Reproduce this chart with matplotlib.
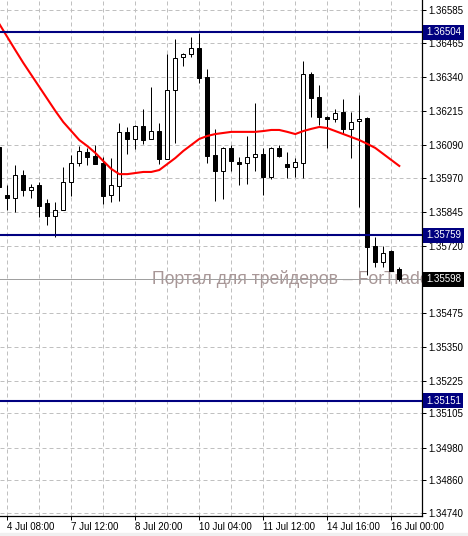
import numpy as np
import matplotlib.pyplot as plt
from matplotlib.patches import Rectangle
from matplotlib.transforms import blended_transform_factory

plt.rcParams['font.family'] = ['Liberation Sans', 'DejaVu Sans']

# H4 candles, first one is cut by the left edge
opens = [1.36083, 1.35906, 1.35895, 1.35980, 1.35925, 1.35943, 1.35877, 1.35829, 1.35851, 1.35954,
         1.36024, 1.36064, 1.36050, 1.36024, 1.35906, 1.35939, 1.36138, 1.36112, 1.36160, 1.36112,
         1.36141, 1.36038, 1.36292, 1.36413, 1.36424, 1.36446, 1.36339, 1.36053, 1.35994, 1.36079,
         1.36027, 1.36024, 1.36046, 1.36057, 1.35972, 1.36079, 1.36020, 1.36009, 1.36024, 1.36350,
         1.36266, 1.36193, 1.36185, 1.36211, 1.36149, 1.36178, 1.36189, 1.35719, 1.35661, 1.35701,
         1.35635]
highs = [1.36090, 1.35943, 1.36016, 1.35998, 1.35947, 1.35954, 1.35892, 1.35881, 1.36009, 1.36053,
         1.36086, 1.36079, 1.36090, 1.36046, 1.36042, 1.36171, 1.36156, 1.36163, 1.36222, 1.36303,
         1.36171, 1.36424, 1.36479, 1.36427, 1.36486, 1.36501, 1.36369, 1.36149, 1.36083, 1.36090,
         1.36046, 1.36123, 1.36244, 1.36079, 1.36083, 1.36090, 1.36064, 1.36042, 1.36398, 1.36358,
         1.36310, 1.36196, 1.36222, 1.36259, 1.36211, 1.36273, 1.36193, 1.35752, 1.35719, 1.35705,
         1.35642]
lows = [1.35928, 1.35851, 1.35844, 1.35903, 1.35895, 1.35826, 1.35796, 1.35752, 1.35851, 1.35903,
        1.36013, 1.36016, 1.36020, 1.35873, 1.35881, 1.35884, 1.36057, 1.36075, 1.36094, 1.36112,
        1.36020, 1.36038, 1.36097, 1.36380, 1.36413, 1.36317, 1.36024, 1.35884, 1.35892, 1.35994,
        1.35943, 1.35947, 1.35994, 1.35906, 1.35965, 1.36046, 1.35969, 1.35972, 1.35969, 1.36193,
        1.36163, 1.36079, 1.36174, 1.36130, 1.36042, 1.35862, 1.35613, 1.35642, 1.35642, 1.35628,
        1.35591]
closes = [1.35936, 1.35895, 1.35980, 1.35925, 1.35936, 1.35866, 1.35829, 1.35851, 1.35954, 1.36024,
          1.36068, 1.36046, 1.36020, 1.35903, 1.35943, 1.36138, 1.36112, 1.36160, 1.36108, 1.36141,
          1.36038, 1.36292, 1.36409, 1.36424, 1.36446, 1.36336, 1.36050, 1.35994, 1.36079, 1.36031,
          1.36020, 1.36046, 1.36057, 1.35972, 1.36079, 1.36050, 1.36009, 1.36027, 1.36350, 1.36262,
          1.36193, 1.36185, 1.36207, 1.36149, 1.36174, 1.36185, 1.35716, 1.35661, 1.35694, 1.35628,
          1.35598]

# moving average (red line)
ma = [1.36534, 1.36486, 1.36438, 1.36391, 1.36347, 1.36303, 1.36259, 1.36215, 1.36174, 1.36141,
      1.36108, 1.36086, 1.36061, 1.36031, 1.36002, 1.35983, 1.35983, 1.35987, 1.35991, 1.35991,
      1.35998, 1.36020, 1.36042, 1.36068, 1.36090, 1.36112, 1.36123, 1.36130, 1.36134, 1.36138,
      1.36138, 1.36138, 1.36138, 1.36141, 1.36145, 1.36145, 1.36138, 1.36130, 1.36141, 1.36149,
      1.36156, 1.36152, 1.36141, 1.36130, 1.36119, 1.36108, 1.36094, 1.36079, 1.36057, 1.36035,
      1.36013]

levels = [1.36504, 1.35759, 1.35151]
bid = 1.35598

price_ticks = [1.36585, 1.36465, 1.36340, 1.36215, 1.36090, 1.35970, 1.35845, 1.35720,
               1.35475, 1.35350, 1.35225, 1.35105, 1.34980, 1.34860, 1.34740]
date_pos = [0, 8, 16, 24, 32, 40, 48]
date_labels = ['4 Jul 08:00', '7 Jul 12:00', '8 Jul 20:00', '10 Jul 04:00',
               '11 Jul 12:00', '14 Jul 16:00', '16 Jul 00:00']

x = np.arange(-1, len(opens) - 1)
o = np.array(opens)
c = np.array(closes)

fig = plt.figure(figsize=(4.68, 5.36), dpi=100)
ax = fig.add_axes([0, 20 / 536, 422 / 468, 516 / 536])
ax.set_xlim(-0.9125, 51.84)
ax.set_ylim(1.34729, 1.366217)

# grid and axes, MT4 look
ax.set_yticks(price_ticks)
ax.set_yticklabels([f'{v:.5f}' for v in price_ticks])
ax.yaxis.tick_right()
ax.set_xticks(date_pos)
ax.set_xticklabels(date_labels, ha='left')
ax.set_xticks([p + 4 for p in date_pos[:-1]], minor=True)
ax.tick_params(axis='both', which='major', labelsize=7, length=3, width=0.72, pad=1.5)
ax.tick_params(axis='x', which='minor', length=0)
ax.grid(True, which='both', color='#c0c0c0', linestyle=(0, (4, 3)), linewidth=0.72, zorder=0)
ax.set_axisbelow(True)
for s in ['left', 'top']:
    ax.spines[s].set_visible(False)
for s in ['right', 'bottom']:
    ax.spines[s].set_linewidth(0.9)

# watermark and bid line
ax.text(152 / 422, (516 - 284) / 516, 'Портал для трейдеров – ForTrader.ru',
        transform=ax.transAxes, fontsize=12.7, color='#a89797', va='baseline', ha='left',
        clip_on=True, zorder=1)
ax.axhline(bid, color='#a0a0a0', linewidth=0.72, zorder=1.5)

# candles
up = c >= o
ax.vlines(x, lows, highs, color='black', linewidth=0.72, zorder=2)
ax.bar(x, c - o, bottom=o, width=0.5, color=np.where(up, 'white', 'black'),
       edgecolor='black', linewidth=0.72, zorder=3)

ax.plot(x, ma, color='red', linewidth=1.5, zorder=4)

# horizontal levels with their price boxes
tr = blended_transform_factory(ax.transAxes, ax.transData)
for lv in levels:
    ax.axhline(lv, color='#000080', linewidth=1.5, zorder=5)
    ax.text(1.0095, lv, f'{lv:.5f}', transform=tr, fontsize=7, color='white',
            va='center', ha='left', zorder=6,
            bbox=dict(facecolor='#000080', edgecolor='none', pad=1.8))
ax.text(1.0095, bid, f'{bid:.5f}', transform=tr, fontsize=7, color='white',
        va='center', ha='left', zorder=6,
        bbox=dict(facecolor='black', edgecolor='none', pad=1.8))

fig.patches.append(Rectangle((0, 0), 1, 3 / 536, transform=fig.transFigure,
                             color='#f0f0f0', zorder=0))

fig.savefig('out.png', dpi=100)
